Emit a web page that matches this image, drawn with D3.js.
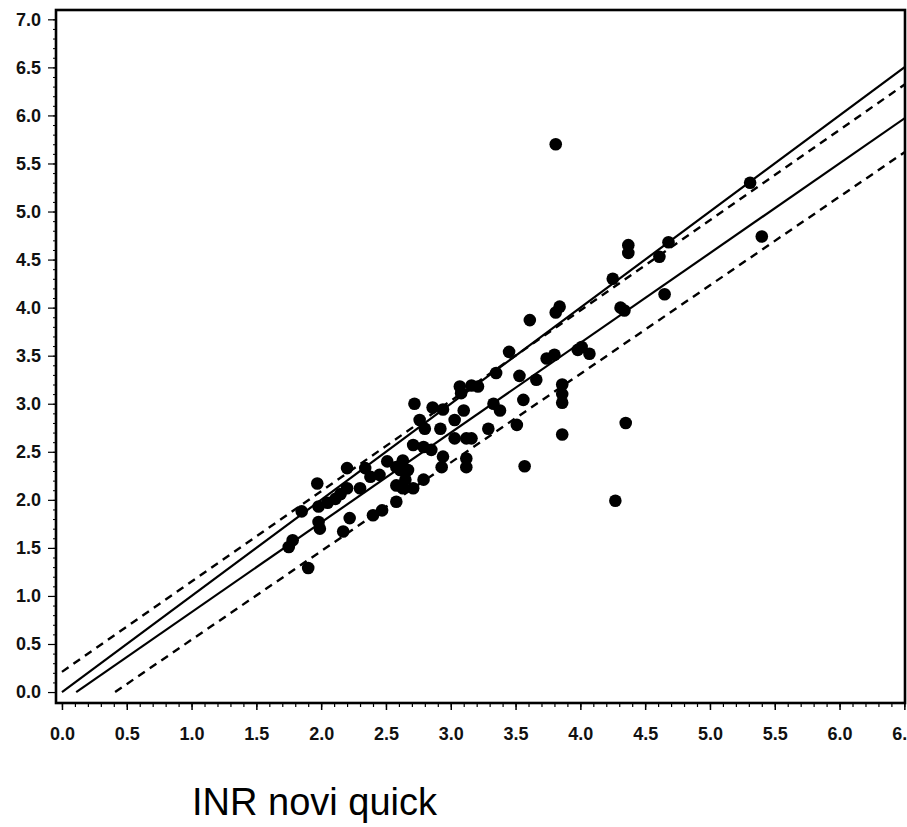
<!doctype html>
<html>
  <head>
    <meta charset="utf-8">
    <title>INR novi quick</title>
    <script type="text/javascript" src="https://d3js.org/d3.v7.min.js"></script>
    <style>
      body { margin: 0; background: #fff; }
    </style>
  </head>
  <body>
    <script>
      // measured points (x = INR novi quick, y = reference INR)
      const xVals = [3.81, 5.31, 5.40, 4.68, 4.61, 4.37, 4.37, 4.25, 4.31, 4.34,
        4.65, 4.07, 4.01, 3.98, 4.35, 4.27, 3.84, 3.81, 3.61, 3.45,
        3.35, 3.53, 3.74, 3.80, 3.66, 3.56, 3.86, 3.86, 3.86, 3.51,
        3.86, 3.57, 3.07, 3.08, 3.16, 3.21, 2.72, 2.86, 2.94, 3.10,
        3.33, 3.38, 2.76, 2.80, 3.03, 2.92, 3.03, 3.12, 3.16, 3.29,
        2.71, 2.79, 2.85, 2.94, 2.93, 3.12, 3.12, 2.63, 2.61, 2.67,
        2.79, 2.65, 2.71, 2.63, 2.20, 2.34, 1.97, 2.51, 2.58, 2.45,
        2.38, 2.58, 2.30, 2.20, 2.15, 2.11, 2.05, 1.98, 1.85, 1.98,
        1.99, 2.22, 2.40, 2.47, 2.58, 2.17, 1.78, 1.75, 1.90];
      const yVals = [5.70, 5.30, 4.74, 4.68, 4.53, 4.65, 4.57, 4.30, 4.00, 3.97,
        4.14, 3.52, 3.59, 3.56, 2.80, 1.99, 4.01, 3.95, 3.87, 3.54,
        3.32, 3.29, 3.47, 3.51, 3.25, 3.04, 3.20, 3.10, 3.01, 2.78,
        2.68, 2.35, 3.18, 3.11, 3.19, 3.18, 3.00, 2.96, 2.94, 2.93,
        3.00, 2.93, 2.83, 2.74, 2.83, 2.74, 2.64, 2.64, 2.64, 2.74,
        2.57, 2.55, 2.52, 2.45, 2.34, 2.43, 2.34, 2.41, 2.31, 2.31,
        2.21, 2.21, 2.12, 2.12, 2.33, 2.33, 2.17, 2.40, 2.34, 2.26,
        2.24, 2.15, 2.12, 2.12, 2.06, 2.01, 1.97, 1.93, 1.88, 1.77,
        1.70, 1.81, 1.84, 1.89, 1.98, 1.67, 1.58, 1.51, 1.29];

      // reference lines, end points in data units
      const identityLine = [[0, 0], [6.7, 6.7]];
      const fitLine = [[0.11, 0], [6.7, 6.155]];
      const upperBand = [[0, 0.21], [6.7, 6.508]];
      const lowerBand = [[0.41, 0], [6.7, 5.80]];

      const xTicks = [0, 0.5, 1, 1.5, 2, 2.5, 3, 3.5, 4, 4.5, 5, 5.5, 6, 6.5];
      const yTicks = [0, 0.5, 1, 1.5, 2, 2.5, 3, 3.5, 4, 4.5, 5, 5.5, 6, 6.5, 7];
      const xTitle = 'INR novi quick';

      const svgWidth = 907;
      const svgHeight = 827;
      const plotL = 56, plotR = 905, plotT = 10, plotB = 703;

      const svg = d3.select('body').append('svg')
          .attr('width', svgWidth)
          .attr('height', svgHeight);

      const x = d3.scaleLinear()
          .domain([-0.046, 6.505])
          .range([plotL, plotR]);
      const y = d3.scaleLinear()
          .domain([-0.114, 7.097])
          .range([plotB, plotT]);

      // clip lines to the frame
      svg.append('defs').append('clipPath')
          .attr('id', 'plot')
        .append('rect')
          .attr('x', plotL)
          .attr('y', plotT)
          .attr('width', plotR - plotL)
          .attr('height', plotB - plotT);

      const line = d3.line()
          .x(d => x(d[0]))
          .y(d => y(d[1]));

      const lines = svg.append('g').attr('clip-path', 'url(#plot)');
      [identityLine, fitLine].forEach(l => {
        lines.append('path')
            .attr('d', line(l))
            .attr('fill', 'none')
            .attr('stroke', '#000')
            .attr('stroke-width', 2.2);
      });
      [upperBand, lowerBand].forEach(l => {
        lines.append('path')
            .attr('d', line(l))
            .attr('fill', 'none')
            .attr('stroke', '#000')
            .attr('stroke-width', 2.4)
            .attr('stroke-dasharray', '8,6');
      });

      // points
      svg.append('g')
        .selectAll('circle')
        .data(d3.range(xVals.length))
        .enter().append('circle')
          .attr('cx', i => x(xVals[i]))
          .attr('cy', i => y(yVals[i]))
          .attr('r', 6.3)
          .attr('fill', '#000');

      // minor ticks every 0.1
      const xMinor = d3.range(0, 66).map(i => i / 10);
      const yMinor = d3.range(0, 71).map(i => i / 10);

      const xAxis = svg.append('g')
          .attr('transform', `translate(0,${plotB})`)
          .call(d3.axisBottom(x).tickValues(xMinor).tickSize(4).tickFormat(''));
      xAxis.select('.domain').remove();
      xAxis.selectAll('line').attr('stroke-width', 1.2);

      const xMajor = svg.append('g')
          .attr('transform', `translate(0,${plotB})`)
          .call(d3.axisBottom(x).tickValues(xTicks).tickSize(7).tickPadding(17)
            .tickFormat(d3.format('.1f')));
      xMajor.select('.domain').remove();
      xMajor.selectAll('line').attr('stroke-width', 1.5);
      xMajor.selectAll('text')
          .attr('font-family', 'Liberation Sans, Arial, sans-serif')
          .attr('font-weight', 'bold')
          .attr('font-size', 18)
          .attr('fill', '#111');

      const yAxis = svg.append('g')
          .attr('transform', `translate(${plotL},0)`)
          .call(d3.axisLeft(y).tickValues(yMinor).tickSize(3).tickFormat(''));
      yAxis.select('.domain').remove();
      yAxis.selectAll('line').attr('stroke-width', 1);

      const yMajor = svg.append('g')
          .attr('transform', `translate(${plotL},0)`)
          .call(d3.axisLeft(y).tickValues(yTicks).tickSize(8).tickPadding(7)
            .tickFormat(d3.format('.1f')));
      yMajor.select('.domain').remove();
      yMajor.selectAll('line').attr('stroke-width', 1.2);
      yMajor.selectAll('text')
          .attr('font-family', 'Liberation Sans, Arial, sans-serif')
          .attr('font-weight', 'bold')
          .attr('font-size', 18)
          .attr('fill', '#111');

      // frame
      svg.append('rect')
          .attr('x', plotL)
          .attr('y', plotT)
          .attr('width', plotR - plotL)
          .attr('height', plotB - plotT)
          .attr('fill', 'none')
          .attr('stroke', '#000')
          .attr('stroke-width', 2.6);

      // axis title
      svg.append('text')
          .attr('x', 192)
          .attr('y', 815)
          .attr('font-family', 'Liberation Sans, Arial, sans-serif')
          .attr('font-size', 38)
          .attr('fill', '#000')
          .text(xTitle);
    </script>
  </body>
</html>
